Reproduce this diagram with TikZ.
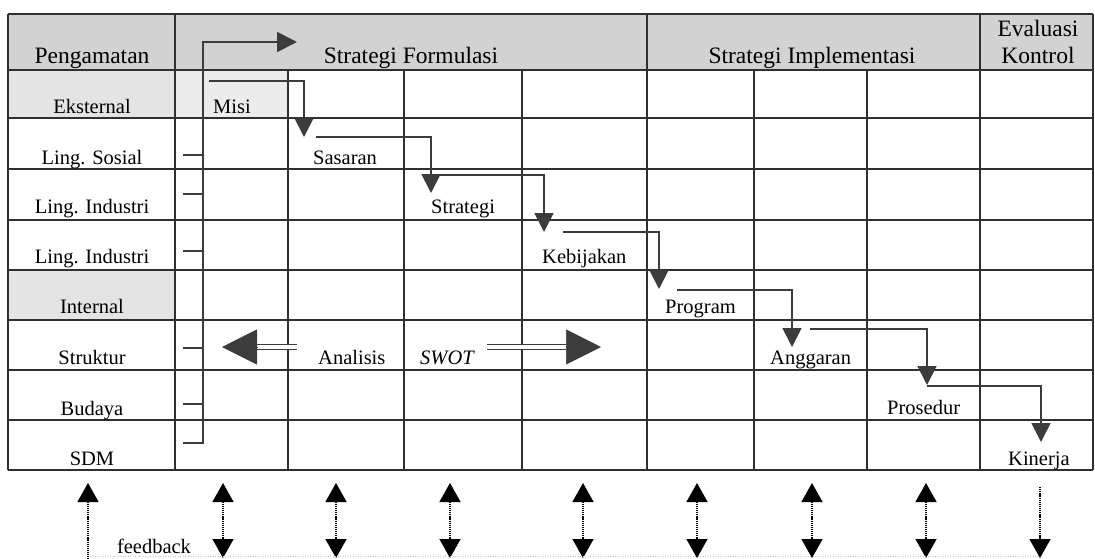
\documentclass[tikz,border=0pt]{standalone}
\usepackage{fontspec}
\setmainfont{Liberation Serif}
\usetikzlibrary{arrows.meta}
\definecolor{ink}{HTML}{303030}
\definecolor{arr}{HTML}{3C3C3C}
\definecolor{hdrfill}{HTML}{D2D2D2}
\definecolor{cellfill}{HTML}{E4E4E4}
\tikzset{
  gridline/.style={draw=ink, line width=1.4pt},
  lbl/.style={inner sep=0pt, anchor=base, text=black, font=\fontsize{20.5}{22}\selectfont},
  lblw/.style={lbl, anchor=base west},
  hdr/.style={inner sep=0pt, anchor=base, text=black, font=\fontsize{23.5}{26}\selectfont},
  flow/.style={draw=arr, line width=1.8pt, -{Triangle[length=19pt,width=19pt]}},
  flowline/.style={draw=arr, line width=1.8pt},
  dblshaft/.style={draw=arr, double=white, double distance=4pt, line width=1.4pt},
  bighead/.style={draw=arr, line width=0.5pt, -{Triangle[length=35pt,width=35pt]}},
  fbboth/.style={draw=black, line width=1.4pt, dash pattern=on 1.2pt off 0.9pt,
    {Triangle[length=19pt,width=21pt]}-{Triangle[length=19pt,width=21pt]}},
  fbup/.style={draw=black, line width=1.4pt, dash pattern=on 1.2pt off 0.9pt,
    {Triangle[length=19pt,width=21pt]}-},
  fbdown/.style={draw=black, line width=1.4pt, dash pattern=on 1.2pt off 0.9pt,
    -{Triangle[length=19pt,width=21pt]}},
  fbline/.style={draw=gray!45, line width=1pt, dash pattern=on 1pt off 1.5pt}
}
\begin{document}
\begin{tikzpicture}[x=1pt,y=-1pt]
\useasboundingbox (0,0) rectangle (1095,558);
% shaded cells
\fill[hdrfill] (8,14) rectangle (1093,70);
\fill[cellfill] (8,70) rectangle (175,118);
\fill[cellfill!70] (175,70) rectangle (288,118);
\fill[cellfill] (8,270) rectangle (175,320);
% table grid
\foreach \y in {14,70,118,169,220,270,320,370,420,470}
  \draw[gridline] (8,\y) -- (1093,\y);
\foreach \x in {8,175,647,980,1093}
  \draw[gridline] (\x,14) -- (\x,470);
\foreach \x in {288,404,522,754,867}
  \draw[gridline] (\x,70) -- (\x,470);
% headers
\node[hdr] (hPeng) at (92,63) {Pengamatan};
\node[hdr] (hForm) at (411,63) {Strategi Formulasi};
\node[hdr] (hImpl) at (812,63) {Strategi Implementasi};
\node[hdr] (hEval) at (1038,36) {Evaluasi};
\node[hdr] (hKont) at (1038,63) {Kontrol};
% row labels
\node[lbl] (rEks) at (92,113) {Eksternal};
\node[lbl] (rSos) at (92,164) {Ling. Sosial};
\node[lbl] (rInd1) at (92,213) {Ling. Industri};
\node[lbl] (rInd2) at (92,263) {Ling. Industri};
\node[lbl] (rInt) at (92,313) {Internal};
\node[lbl] (rStr) at (92,364) {Struktur};
\node[lbl] (rBud) at (92,415) {Budaya};
\node[lbl] (rSdm) at (92,465) {SDM};
% cascade labels
\node[lblw] (misi) at (213,113) {Misi};
\node[lblw] (sasaran) at (313,164) {Sasaran};
\node[lblw] (strategi) at (431,213) {Strategi};
\node[lblw] (kebijakan) at (542,263) {Kebijakan};
\node[lblw] (program) at (665,313) {Program};
\node[lblw] (anggaran) at (770,364) {Anggaran};
\node[lblw] (prosedur) at (887,414) {Prosedur};
\node[lblw] (kinerja) at (1008,465) {Kinerja};
\node[lblw] (analisis) at (318,364) {Analisis};
\node[lblw] (swot) at (420,364) {\itshape SWOT};
% spine with ticks
\coordinate (sp0) at (183,443);
\coordinate (spb) at (203,443);
\coordinate (topTip) at (297,42);
\draw[flow, -{Triangle[length=20pt,width=20pt]}] (sp0) -- (spb) |- (topTip);
\foreach \y/\n in {155/1,194/2,251/3,348/4,404/5}{
  \coordinate (tkA\n) at (183,\y);
  \coordinate (tkB\n) at (203,\y);
  \draw[flowline] (tkA\n) -- (tkB\n);
}
% cascade connectors
\coordinate (c1a) at (209,81);  \coordinate (c1b) at (304,137);
\coordinate (c2a) at (316,137); \coordinate (c2b) at (431,193);
\coordinate (c3a) at (440,175); \coordinate (c3b) at (544,232);
\coordinate (c4a) at (563,232); \coordinate (c4b) at (659,289);
\coordinate (c5a) at (677,290); \coordinate (c5b) at (792,347);
\coordinate (c6a) at (810,329); \coordinate (c6b) at (927,385);
\coordinate (c7a) at (927,386); \coordinate (c7b) at (1041,442);
\foreach \i in {1,...,7}
  \draw[flow] (c\i a) -| (c\i b);
% SWOT arrows
\coordinate (sLtip) at (222,347); \coordinate (sLbase) at (257,347); \coordinate (sLend) at (297,347);
\coordinate (sRtip) at (601,347); \coordinate (sRbase) at (566,347); \coordinate (sRend) at (487,347);
\draw[dblshaft] (sLend) -- (sLbase);
\draw[dblshaft] (sRend) -- (sRbase);
\draw[bighead] (sLbase) -- (sLtip);
\draw[bighead] (sRbase) -- (sRtip);
% feedback arrows
\coordinate (f1t) at (88,483);  \coordinate (f1b) at (88,560);
\draw[fbup] (f1t) -- (f1b);
\foreach \x/\n in {223/2,336/3,450/4,583/5,697/6,812/7,926/8}{
  \coordinate (f\n t) at (\x,483);
  \coordinate (f\n b) at (\x,558);
  \draw[fbboth] (f\n t) -- (f\n b);
}
\coordinate (f9t) at (1040,487); \coordinate (f9b) at (1040,558);
\draw[fbdown] (f9t) -- (f9b);
\coordinate (fbL) at (90,556.5); \coordinate (fbR) at (1040,556.5);
\draw[fbline] (fbL) -- (fbR);
\node[lbl] (feedback) at (154,553) {feedback};
\end{tikzpicture}
\end{document}
